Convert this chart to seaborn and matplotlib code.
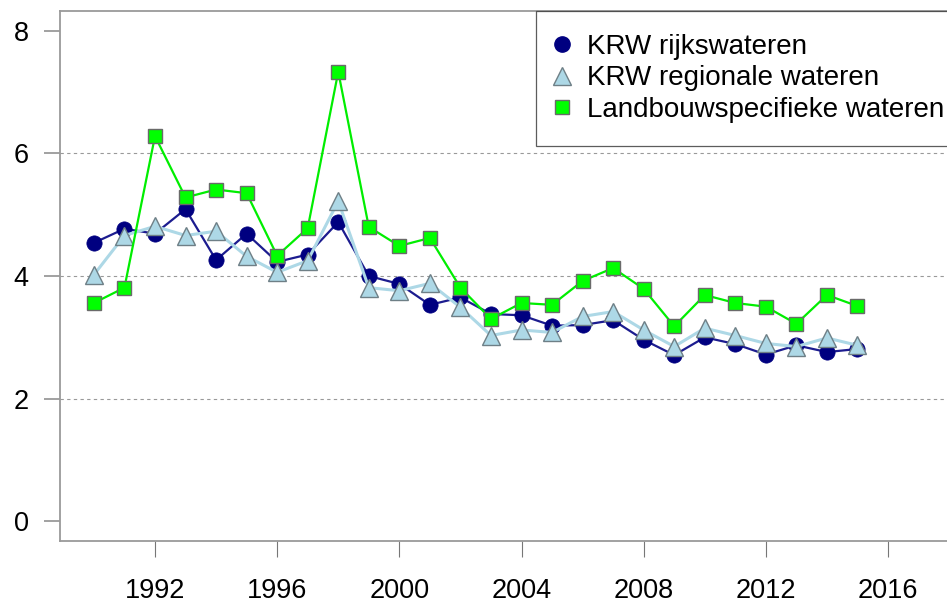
import pandas as pd
import matplotlib
matplotlib.use('Agg')
import matplotlib.pyplot as plt
from matplotlib.lines import Line2D
import seaborn as sns

years = list(range(1990, 2016))
rijks = [4.54, 4.77, 4.69, 5.09, 4.26, 4.69, 4.23, 4.35, 4.88, 4.00, 3.87, 3.53, 3.65,
         3.38, 3.36, 3.19, 3.20, 3.28, 2.96, 2.71, 3.00, 2.89, 2.72, 2.87, 2.76, 2.81]
regionaal = [4.02, 4.66, 4.81, 4.66, 4.73, 4.32, 4.06, 4.25, 5.22, 3.81, 3.76, 3.88, 3.49,
             3.03, 3.12, 3.08, 3.34, 3.42, 3.12, 2.85, 3.15, 3.03, 2.90, 2.85, 2.99, 2.87]
landbouw = [3.56, 3.81, 6.28, 5.28, 5.41, 5.35, 4.33, 4.78, 7.33, 4.80, 4.49, 4.62, 3.81,
            3.30, 3.56, 3.53, 3.92, 4.13, 3.79, 3.18, 3.69, 3.56, 3.50, 3.22, 3.69, 3.51]
labels = ['KRW rijkswateren', 'KRW regionale wateren', 'Landbouwspecifieke wateren']
yticks = [0, 2, 4, 6, 8]
xticks = [1992, 1996, 2000, 2004, 2008, 2012, 2016]

df = pd.DataFrame({'jaar': years, 'rijks': rijks, 'regionaal': regionaal, 'landbouw': landbouw})

sns.set_style('white')
plt.rcParams['font.family'] = ['Liberation Sans', 'DejaVu Sans']
plt.rcParams['text.color'] = 'black'
plt.rcParams['xtick.labelcolor'] = 'black'
plt.rcParams['ytick.labelcolor'] = 'black'

W, H = 947, 605
fig = plt.figure(figsize=(W / 100, H / 100), dpi=100)
ax = fig.add_axes([60 / W, (H - 541) / H, (985 - 60) / W, (541 - 11) / H])

for g in yticks[1:-1]:
    ax.axhline(g, color='#999999', lw=0.8, ls=(0, (3, 3)), zorder=0)

sns.lineplot(data=df, x='jaar', y='rijks', ax=ax, color='#1c1c8f', lw=1.6,
             marker='o', markersize=11, markerfacecolor='#000080',
             markeredgecolor='#000080', markeredgewidth=0.5, zorder=3)
sns.lineplot(data=df, x='jaar', y='regionaal', ax=ax, color='#add8e6', lw=2.2,
             marker='^', markersize=12.5, markerfacecolor='#add8e6',
             markeredgecolor='#6e7f86', markeredgewidth=1.0, zorder=4)
sns.lineplot(data=df, x='jaar', y='landbouw', ax=ax, color='#00ee00', lw=1.6,
             marker='s', markersize=9.5, markerfacecolor='#00ff00',
             markeredgecolor='#6a6a6a', markeredgewidth=1.0, zorder=5)

ax.set_xlim(1988.89, 1990 + (985 - 94) / 30.54)
ax.set_ylim(-0.32, 8.32)
ax.set_xticks(xticks)
ax.set_yticks(yticks)
ax.set_xticklabels([str(t) for t in xticks])
ax.set_yticklabels([str(t) for t in yticks])
ax.set_xlabel('')
ax.set_ylabel('')

for s in ['left', 'top', 'bottom']:
    ax.spines[s].set_color('#9a9a9a')
    ax.spines[s].set_linewidth(1.3)
ax.spines['right'].set_visible(False)
ax.tick_params(axis='y', length=11.5, width=1.3, color='#9a9a9a', pad=11, labelsize=19.5, left=True)
ax.tick_params(axis='x', length=11.5, width=0.8, color='#777777', pad=15, labelsize=19.5, bottom=True)

handles = [
    Line2D([], [], ls='', marker='o', markersize=11, markerfacecolor='#000080', markeredgecolor='#000080'),
    Line2D([], [], ls='', marker='^', markersize=12.5, markerfacecolor='#add8e6', markeredgecolor='#6e7f86'),
    Line2D([], [], ls='', marker='s', markersize=9.5, markerfacecolor='#00ff00', markeredgecolor='#6a6a6a'),
]
leg = fig.legend(handles, labels, loc='upper left', bbox_to_anchor=(536 / W, 1 - 11 / H),
                 fontsize=20, frameon=True, fancybox=False, borderaxespad=0,
                 handlelength=0.2, handletextpad=0.8, labelspacing=0.2, borderpad=0.82)
leg.get_frame().set_edgecolor('#333333')
leg.get_frame().set_linewidth(0.9)

fig.savefig('out.png', dpi=100)
